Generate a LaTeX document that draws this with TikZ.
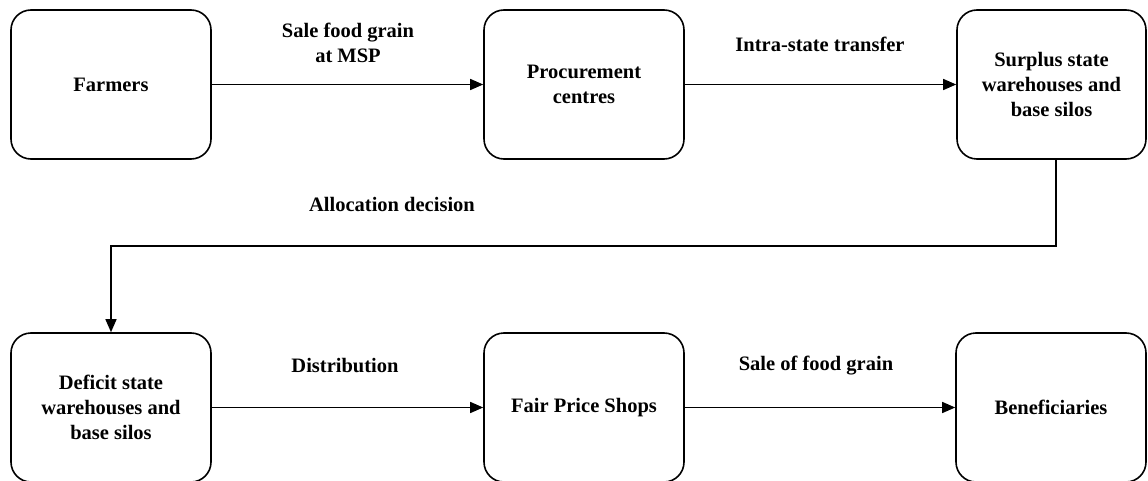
\documentclass[tikz,border=0pt]{standalone}
\usepackage{fontspec}
\setmainfont{Liberation Serif}
\usetikzlibrary{arrows.meta}

\begin{document}
\begin{tikzpicture}[x=1pt,y=-1pt,
    box/.style={draw=black, line width=1.6pt, rounded corners=20pt, align=center,
      minimum width=200pt, minimum height=149pt, inner sep=0pt},
    lbl/.style={align=center, inner sep=0pt},
    flow/.style={line width=1.4pt, -{Triangle[length=13pt,width=11pt]}}]
    \tikzstyle{every node}+=[font=\fontsize{20.5}{25}\selectfont\bfseries]
    \useasboundingbox (0,0) rectangle (1148,481);
    % top row
    \node [box] (farmers) at (111,84.5) {Farmers};
    \node [box] (proc) at (584,84.5) {Procurement\\centres};
    \node [box, minimum width=189pt] (surplus) at (1051.5,84.5) {Surplus state\\warehouses and\\base silos};
    % bottom row
    \node [box] (deficit) at (111,407.5) {Deficit state\\warehouses and\\base silos};
    \node [box] (fps) at (584,407.5) {Fair Price Shops};
    \node [box, minimum width=190pt] (benef) at (1051,407.5) {Beneficiaries};
    % labels
    \node [lbl] (l1) at (348,43) {Sale food grain\\at MSP};
    \node [lbl] (l2) at (820,44) {Intra-state transfer};
    \node [lbl] (l3) at (392,204) {Allocation decision};
    \node [lbl] (l4) at (345,366) {Distribution};
    \node [lbl] (l5) at (816,366) {Sale of food grain};
    % connectors
    \coordinate (turn) at (0,246);
    \draw [flow] (farmers) -- (proc);
    \draw [flow] (proc) -- (surplus);
    \draw [flow] ([xshift=4.5pt]surplus.south) -- ([xshift=4.5pt]surplus.south |- turn) -| (deficit.north);
    \draw [flow] (deficit) -- (fps);
    \draw [flow] (fps) -- (benef);
\end{tikzpicture}
\end{document}
